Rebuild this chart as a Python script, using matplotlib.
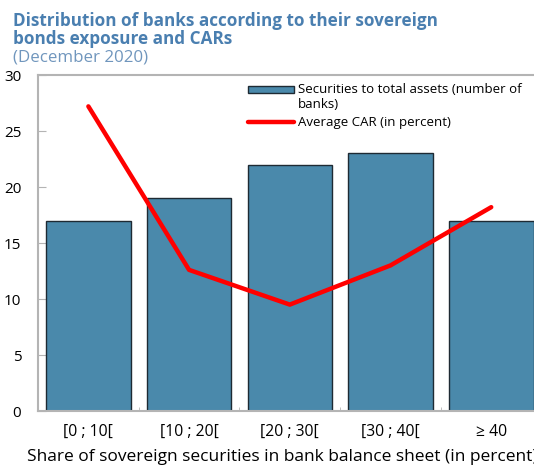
import numpy as np
import matplotlib as mpl
mpl.use("Agg")
import matplotlib.pyplot as plt
from matplotlib.patches import Rectangle
from matplotlib.legend_handler import HandlerPatch

plt.rcParams["font.family"] = ["Open Sans", "DejaVu Sans"]

# bank counts per bucket of sovereign securities share, and average CAR
categories = ["[0 ; 10[", "[10 ; 20[", "[20 ; 30[", "[30 ; 40[", "\u2265 40"]
n_banks = [17, 19, 22, 23, 17]
avg_car = [27.2, 12.6, 9.5, 13.0, 18.2]

BAR_COLOR = "#4a89ab"
EDGE = "#1e2a33"
SPINE = "#b4b4b4"
TITLE_COLOR = "#4a7fb0"


class RaisedPatch(HandlerPatch):
    """Patch handle lined up with the first line of a two-line label."""
    def create_artists(self, legend, orig_handle, xdescent, ydescent,
                       width, height, fontsize, trans):
        p = Rectangle((-xdescent, -ydescent + 0.62 * fontsize), width, height)
        self.update_prop(p, orig_handle, legend)
        p.set_transform(trans)
        return [p]


fig = plt.figure(figsize=(5.34, 4.67), dpi=100)
ax = fig.add_axes([0.0712, 0.1199, 0.943, 0.7195])

x = np.arange(len(categories))
bars = ax.bar(x, n_banks, width=0.84, color=BAR_COLOR, edgecolor=EDGE,
              linewidth=1.0, zorder=2)
line, = ax.plot(x, avg_car, color="#ff0000", lw=3.2, solid_capstyle="round",
                zorder=3)

ax.set_xlim(-0.5, len(categories) - 0.5)
ax.set_ylim(0, 30)
ax.set_yticks(range(0, 31, 5))
ax.set_xticks(x)
ax.set_xticklabels(categories, fontsize=11.3)
ax.set_xticks(x[:-1] + 0.5, minor=True)
ax.tick_params(axis="x", which="major", length=0, pad=9)
ax.tick_params(axis="x", which="minor", length=3, direction="in", color=SPINE)
ax.tick_params(axis="y", length=6, direction="in", color=SPINE, labelsize=11,
               pad=12)

for side in ("left", "bottom", "top", "right"):
    ax.spines[side].set_color(SPINE)
    ax.spines[side].set_linewidth(1.5)

ax.set_xlabel("Share of sovereign securities in bank balance sheet (in percent)",
              fontsize=12.5, ha="left")
ax.xaxis.set_label_coords(-0.022, -0.113)

ax.legend([bars[0], line],
          ["Securities to total assets (number of\nbanks)",
           "Average CAR (in percent)"],
          handler_map={bars[0]: RaisedPatch()},
          loc="upper left", bbox_to_anchor=(0.417, 0.975), frameon=False,
          fontsize=9.5, handlelength=3.5, handleheight=0.45,
          handletextpad=0.3, labelspacing=0.35, borderaxespad=0,
          borderpad=0)

fig.text(0.024, 0.975, "Distribution of banks according to their sovereign\nbonds exposure and CARs",
         fontsize=12.3, fontweight="bold", color=TITLE_COLOR, va="top",
         linespacing=1.05)
fig.text(0.024, 0.893, "(December 2020)", fontsize=12.2, color="#7096bd", va="top")

fig.savefig("out.png", dpi=100)
